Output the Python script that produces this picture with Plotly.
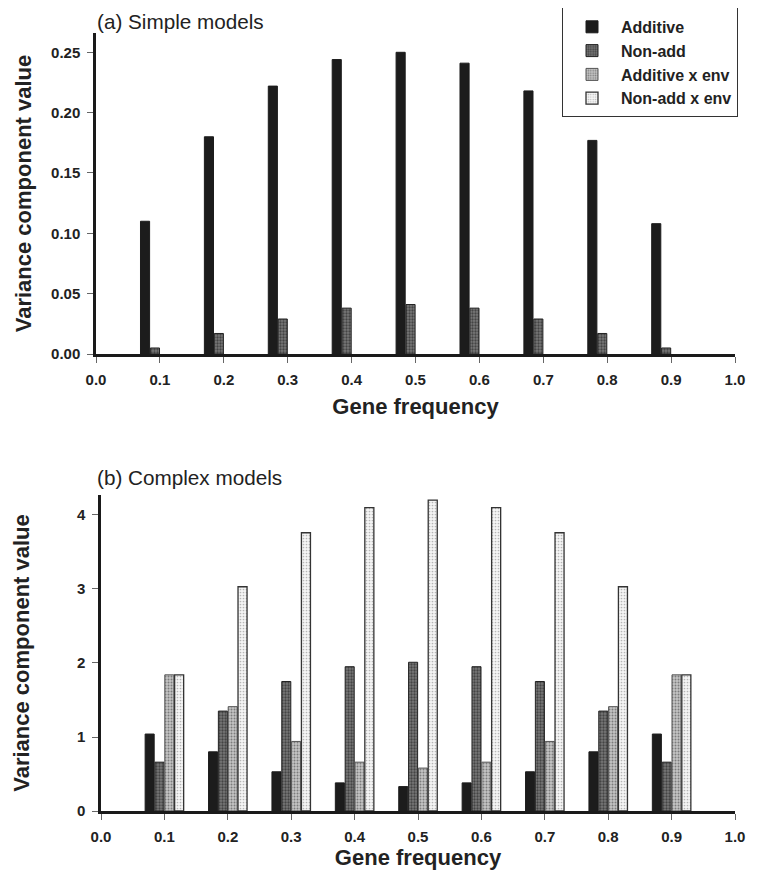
import plotly.graph_objects as go

freq = [0.1, 0.2, 0.3, 0.4, 0.5, 0.6, 0.7, 0.8, 0.9]
series_names = ["Additive", "Non-add", "Additive x env", "Non-add x env"]

# (a) Simple models
simple_additive = [0.110, 0.180, 0.222, 0.244, 0.250, 0.241, 0.218, 0.177, 0.108]
simple_nonadd = [0.005, 0.017, 0.029, 0.038, 0.041, 0.038, 0.029, 0.017, 0.005]
simple_add_env = [0, 0, 0, 0, 0, 0, 0, 0, 0]
simple_nonadd_env = [0, 0, 0, 0, 0, 0, 0, 0, 0]

# (b) Complex models
complex_additive = [1.04, 0.80, 0.53, 0.38, 0.33, 0.38, 0.53, 0.80, 1.04]
complex_nonadd = [0.66, 1.35, 1.75, 1.95, 2.01, 1.95, 1.75, 1.35, 0.66]
complex_add_env = [1.84, 1.41, 0.94, 0.66, 0.58, 0.66, 0.94, 1.41, 1.84]
complex_nonadd_env = [1.84, 3.03, 3.76, 4.10, 4.20, 4.10, 3.76, 3.03, 1.84]

y_ticks_a = [0.00, 0.05, 0.10, 0.15, 0.20, 0.25]
y_ticks_b = [0, 1, 2, 3, 4]
x_ticks = [0.0, 0.1, 0.2, 0.3, 0.4, 0.5, 0.6, 0.7, 0.8, 0.9, 1.0]

W, H = 765, 877
OFF = 8  # page body margin in the browser
ML, MR, MT, MB = 88, 38, 0, 60
PW = W - ML - MR
PH = H - MT - MB

def ydom(top_px, bot_px):
    top_px -= OFF
    bot_px -= OFF
    return [(H - MB - bot_px) / PH, (H - MB - top_px) / PH]

def xdom(left_px, right_px):
    left_px -= OFF
    right_px -= OFF
    return [(left_px - ML) / PW, (right_px - ML) / PW]

def px_x(x):
    return (x - OFF - ML) / PW

def px_y(y):
    return (H - MB - (y - OFF)) / PH

styles = [
    dict(color="#1c1c1c", line=dict(color="#1c1c1c", width=1)),
    dict(color="#555", line=dict(color="#222", width=1),
         pattern=dict(shape=".", fgcolor="#111", bgcolor="#777", size=3, solidity=0.45)),
    dict(color="#999", line=dict(color="#555", width=1),
         pattern=dict(shape=".", fgcolor="#333", bgcolor="#c4c4c4", size=3, solidity=0.35)),
    dict(color="#ddd", line=dict(color="#333", width=1.3),
         pattern=dict(shape=".", fgcolor="#777", bgcolor="#f4f4f4", size=3, solidity=0.25)),
]

fig = go.Figure()
simple = [simple_additive, simple_nonadd, simple_add_env, simple_nonadd_env]
complex_ = [complex_additive, complex_nonadd, complex_add_env, complex_nonadd_env]
for i, name in enumerate(series_names):
    m = dict(styles[i])
    if max(simple[i]) == 0:
        m = dict(m, line=dict(width=0))
    fig.add_trace(go.Bar(x=freq, y=simple[i], name="<b>" + name + "</b>", marker=m,
                         xaxis="x", yaxis="y", offsetgroup=str(i), legendgroup=name,
                         showlegend=False))
for i, name in enumerate(series_names):
    fig.add_trace(go.Bar(x=freq, y=complex_[i], name="<b>" + name + "</b>", marker=styles[i],
                         xaxis="x2", yaxis="y2", offsetgroup=str(i), legendgroup=name,
                         showlegend=True))

font = "Liberation Sans, Arial, sans-serif"
axis_common = dict(showline=True, linecolor="#1a1a1a", linewidth=2.5, ticks="outside",
                   ticklen=6, tickwidth=1, tickcolor="#666", showgrid=False, zeroline=False,
                   automargin=False,
                   tickfont=dict(family=font, size=15, color="#222", weight="bold"))
title_font = dict(size=22, family=font, color="#222", weight="bold")

fig.update_layout(
    width=W, height=H,
    margin=dict(l=ML, r=MR, t=MT, b=MB, autoexpand=False),
    paper_bgcolor="white", plot_bgcolor="white",
    barmode="group", bargap=0.38, bargroupgap=0.08,
    font=dict(family=font, color="#222"),
    xaxis=dict(domain=xdom(96, 735), range=[0, 1], tickvals=x_ticks, tickformat=".1f",
               anchor="y", ticklabelstandoff=4,
               title=dict(text="Gene frequency", font=title_font, standoff=12),
               **axis_common),
    yaxis=dict(domain=ydom(33, 354), range=[0, 0.266], tickvals=y_ticks_a, tickformat=".2f",
               anchor="x", ticklabelstandoff=4,
               title=dict(text="Variance component value", font=title_font, standoff=14),
               **axis_common),
    xaxis2=dict(domain=xdom(101, 735), range=[0, 1], tickvals=x_ticks, tickformat=".1f",
                anchor="y2", ticklabelstandoff=4,
                title=dict(text="Gene frequency", font=title_font, standoff=5),
                **axis_common),
    yaxis2=dict(domain=ydom(495, 811), range=[0, 4.27], tickvals=y_ticks_b, tickformat="d",
                anchor="x2", ticklabelstandoff=4,
                title=dict(text="Variance component value", font=title_font, standoff=42),
                **axis_common),
    legend=dict(x=px_x(562), y=px_y(5), xanchor="left", yanchor="top",
                bordercolor="#333", borderwidth=1, bgcolor="white",
                font=dict(family=font, size=16, color="#222"),
                title=dict(text=" ", font=dict(size=3)),
                tracegroupgap=0, itemwidth=48, traceorder="normal"),
    showlegend=True,
)

fig.add_annotation(text="(a) Simple models", xref="paper", yref="paper",
                   x=px_x(95), y=px_y(21), xanchor="left", yanchor="middle",
                   showarrow=False, font=dict(family=font, size=20.7, color="#222"))
fig.add_annotation(text="(b) Complex models", xref="paper", yref="paper",
                   x=px_x(95), y=px_y(477), xanchor="left", yanchor="middle",
                   showarrow=False, font=dict(family=font, size=20.7, color="#222"))

fig.write_html("out.html")
